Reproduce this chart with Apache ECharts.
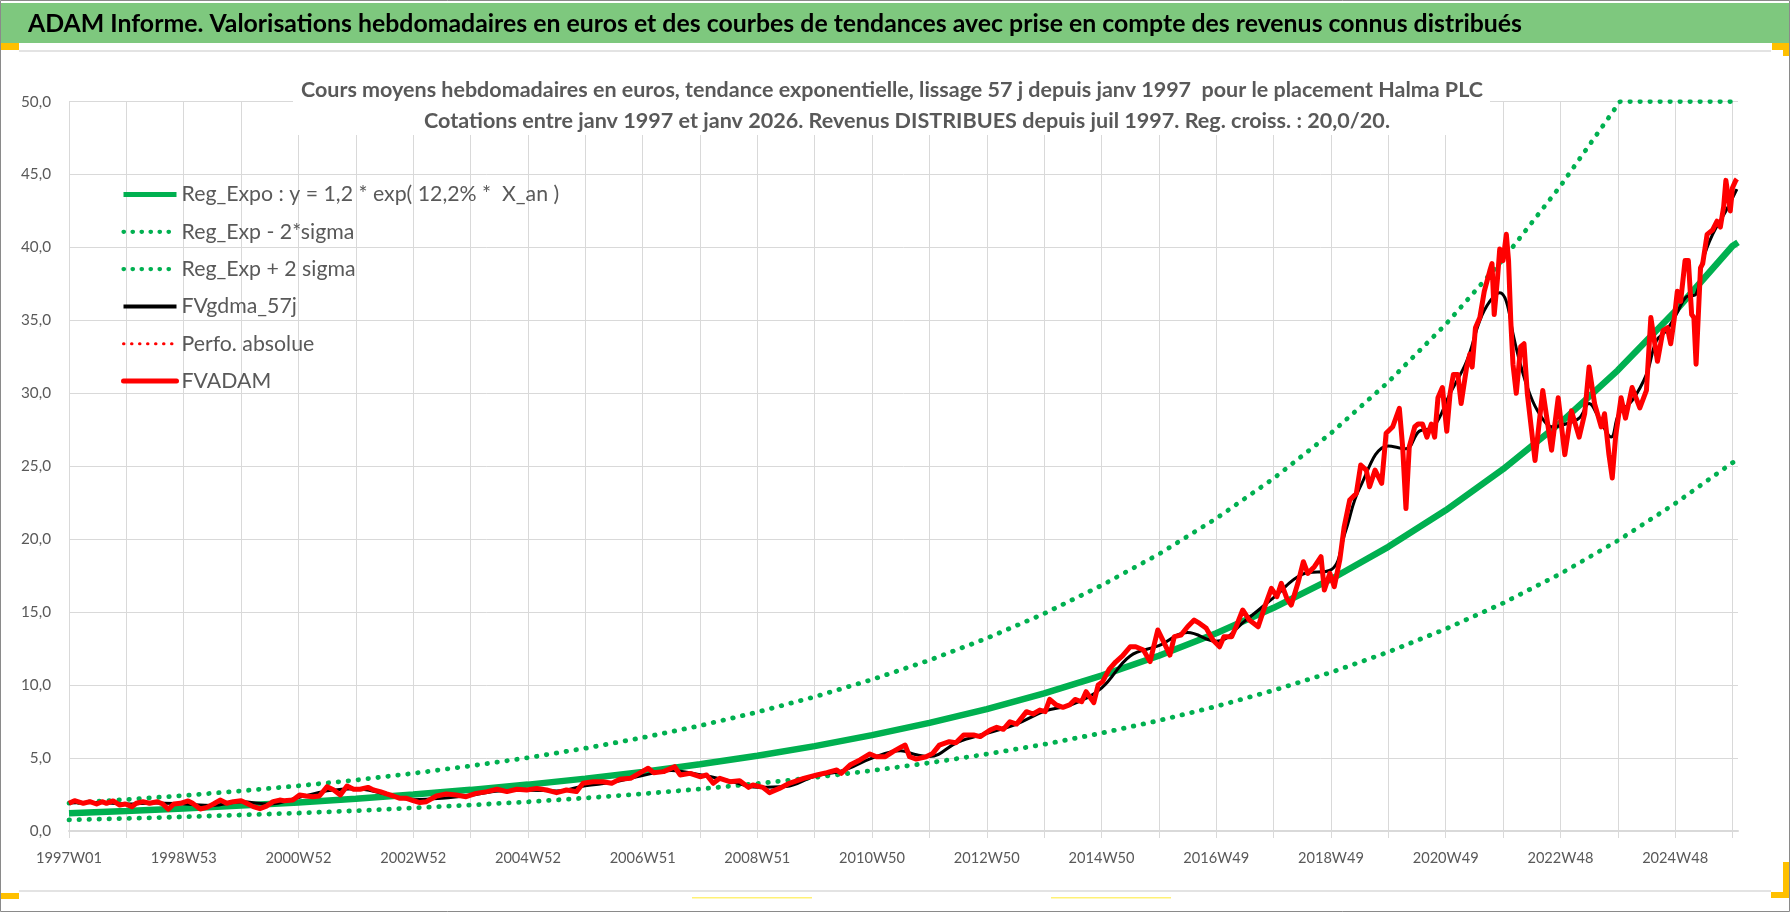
<!DOCTYPE html>
<html><head><meta charset="utf-8">
<script src="https://cdn.jsdelivr.net/npm/echarts@6/dist/echarts.min.js"></script>
<style>html,body{margin:0;padding:0;background:#fff;}#c{width:1790px;height:912px;}</style>
</head><body><div id="c"></div>
<script>
// ---------------- DATA ----------------
const firstYear = 1997;
const weekCount = 1514;               // 1997W01 .. 2026W01
const headerTitle = "ADAM Informe. Valorisations hebdomadaires en euros et des courbes de tendances avec prise en compte des revenus connus distribués";
const subtitleLine1 = "Cours moyens hebdomadaires en euros, tendance exponentielle, lissage 57 j depuis janv 1997  pour le placement Halma PLC";
const subtitleLine2 = "Cotations entre janv 1997 et janv 2026. Revenus DISTRIBUES depuis juil 1997. Reg. croiss. : 20,0/20.";
const yMin = 0, yMax = 50, yStep = 5;
const seriesNames = ["Reg_Expo : y = 1,2 * exp( 12,2% *  X_an )", "Reg_Exp - 2*sigma", "Reg_Exp + 2 sigma", "FVgdma_57j", "Perfo. absolue", "FVADAM"];

// [week index from 1997W01, value]
const regExpo = [[0,1.21],[52,1.37],[104,1.54],[156,1.74],[208,1.96],[260,2.21],[312,2.50],[364,2.82],[416,3.18],[468,3.59],[520,4.05],[572,4.57],[624,5.16],[676,5.82],[728,6.57],[780,7.41],[832,8.36],[884,9.43],[936,10.65],[988,12.01],[1040,13.56],[1092,15.30],[1144,17.26],[1196,19.48],[1248,21.98],[1300,24.80],[1352,27.98],[1404,31.58],[1456,35.63],[1508,40.10],[1513,40.35]];
const regLow = [[0,0.76],[52,0.86],[104,0.97],[156,1.10],[208,1.23],[260,1.39],[312,1.58],[364,1.78],[416,2.00],[468,2.26],[520,2.55],[572,2.88],[624,3.25],[676,3.67],[728,4.14],[780,4.67],[832,5.27],[884,5.94],[936,6.71],[988,7.57],[1040,8.54],[1092,9.64],[1144,10.87],[1196,12.27],[1248,13.85],[1300,15.62],[1352,17.63],[1404,19.90],[1456,22.45],[1508,25.25],[1513,25.40]];
const regHigh = [[0,1.91],[52,2.16],[104,2.43],[156,2.75],[208,3.10],[260,3.49],[312,3.95],[364,4.46],[416,5.02],[468,5.67],[520,6.40],[572,7.22],[624,8.15],[676,9.20],[728,10.38],[780,11.71],[832,13.21],[884,14.90],[936,16.83],[988,18.98],[1040,21.42],[1092,24.17],[1144,27.27],[1196,30.78],[1248,34.73],[1300,39.18],[1352,44.21],[1406,50],[1456,50],[1513,50]];
const fvgdma = [[0,1.92],[26,1.95],[52,1.85],[78,1.92],[104,1.85],[130,1.75],[156,2.00],[182,1.85],[208,2.30],[234,2.75],[260,2.90],[286,2.55],[312,2.15],[338,2.24],[364,2.45],[390,2.75],[416,2.80],[442,2.75],[468,3.10],[494,3.35],[520,3.80],[546,4.15],[572,3.85],[598,3.45],[624,3.00],[650,3.05],[676,3.75],[702,4.15],[728,5.00],[754,5.50],[767,5.25],[780,5.10],[806,6.10],[832,6.70],[858,7.30],[884,8.20],[910,8.70],[936,9.80],[962,12.00],[988,12.70],[1014,13.60],[1040,13.00],[1066,14.40],[1092,16.00],[1118,17.60],[1144,17.90],[1157,20.50],[1170,23.50],[1196,26.40],[1212,26.20],[1224,27.40],[1237,27.70],[1252,30.00],[1267,32.20],[1279,35.00],[1288,36.30],[1297,36.90],[1303,36.30],[1309,34.10],[1315,32.20],[1324,30.00],[1333,28.60],[1345,27.70],[1357,27.90],[1369,28.30],[1378,29.30],[1387,28.30],[1398,27.00],[1405,28.60],[1417,29.50],[1430,31.30],[1439,33.60],[1448,34.30],[1457,35.40],[1466,36.60],[1475,36.80],[1481,39.10],[1490,40.90],[1502,42.50],[1512,44.00]];
const perfoAbsolue = [];
const fvadam = [[0,1.90],[1,1.94],[5,2.08],[13,1.90],[19,2.01],[25,1.85],[30,2.01],[34,1.90],[40,2.06],[46,1.78],[51,1.85],[57,1.67],[61,1.90],[67,2.01],[73,1.90],[80,2.01],[85,1.85],[90,1.49],[95,1.85],[101,1.90],[108,2.06],[112,1.90],[119,1.51],[125,1.62],[131,1.85],[137,2.12],[143,1.90],[149,2.01],[156,2.08],[161,1.90],[167,1.67],[173,1.53],[179,1.71],[185,2.01],[191,2.12],[195,2.08],[203,2.12],[209,2.47],[215,2.40],[221,2.35],[227,2.40],[234,3.04],[240,2.81],[246,2.47],[252,3.08],[258,2.86],[264,2.86],[271,2.99],[276,2.81],[282,2.70],[288,2.54],[294,2.40],[300,2.24],[306,2.24],[312,2.08],[318,1.95],[324,2.01],[333,2.40],[342,2.54],[351,2.47],[360,2.35],[369,2.58],[379,2.70],[388,2.86],[397,2.70],[406,2.86],[415,2.81],[424,2.92],[433,2.81],[442,2.63],[451,2.81],[460,2.70],[466,3.27],[475,3.38],[484,3.38],[492,3.27],[499,3.54],[509,3.61],[518,4.00],[525,4.30],[530,4.00],[539,4.07],[549,4.41],[554,3.84],[563,3.95],[572,3.72],[578,3.84],[584,3.27],[590,3.61],[599,3.38],[608,3.45],[616,2.99],[620,3.15],[629,2.99],[635,2.63],[644,2.92],[653,3.27],[666,3.61],[678,3.84],[687,4.00],[696,4.18],[700,3.95],[708,4.52],[717,4.87],[726,5.28],[732,5.09],[740,5.09],[747,5.44],[755,5.78],[758,5.89],[762,5.09],[768,4.93],[777,5.09],[783,5.32],[789,5.89],[798,6.12],[804,6.05],[811,6.58],[820,6.58],[826,6.47],[835,6.92],[841,7.11],[847,6.97],[853,7.49],[859,7.33],[868,8.18],[874,8.02],[880,8.29],[885,8.18],[889,9.02],[895,8.64],[901,8.48],[907,8.64],[912,9.02],[918,8.86],[922,9.55],[929,8.80],[933,10.01],[937,10.24],[943,11.10],[949,11.60],[955,12.00],[962,12.63],[967,12.63],[974,12.41],[980,11.61],[987,13.78],[993,12.86],[998,12.06],[1002,13.32],[1008,13.43],[1014,14.00],[1020,14.46],[1025,14.23],[1031,13.89],[1037,13.09],[1043,12.63],[1047,13.32],[1054,13.32],[1058,14.00],[1064,15.15],[1070,14.46],[1078,14.00],[1084,15.38],[1090,16.63],[1095,16.06],[1099,16.98],[1104,15.95],[1108,15.49],[1114,16.98],[1119,18.46],[1123,17.66],[1129,18.12],[1135,18.80],[1138,16.52],[1143,17.66],[1147,16.75],[1152,18.57],[1156,20.86],[1161,22.69],[1167,23.14],[1171,25.09],[1176,24.74],[1179,23.60],[1184,24.74],[1190,23.83],[1194,27.26],[1200,27.71],[1206,28.97],[1209,26.34],[1212,22.10],[1215,26.34],[1220,27.71],[1223,27.90],[1227,27.90],[1231,27.00],[1235,27.90],[1238,27.00],[1241,29.70],[1245,30.40],[1249,27.40],[1252,30.00],[1255,31.30],[1259,31.30],[1262,29.30],[1267,31.80],[1270,32.70],[1272,31.80],[1275,34.50],[1279,35.20],[1283,37.00],[1288,38.40],[1290,38.90],[1292,35.40],[1295,37.90],[1297,39.90],[1300,39.10],[1303,40.90],[1305,39.10],[1307,35.00],[1309,32.00],[1312,30.00],[1316,33.20],[1319,33.40],[1322,30.00],[1329,25.40],[1336,30.20],[1344,26.10],[1350,29.70],[1356,25.80],[1362,28.80],[1369,27.00],[1374,28.60],[1378,31.80],[1383,29.30],[1389,27.70],[1392,28.60],[1396,25.80],[1399,24.20],[1402,27.00],[1407,29.70],[1411,28.30],[1417,30.40],[1424,29.00],[1430,30.20],[1434,35.20],[1440,32.20],[1445,34.30],[1449,34.50],[1452,33.40],[1455,35.00],[1458,37.00],[1461,36.30],[1465,39.10],[1468,39.10],[1471,35.40],[1473,35.20],[1475,32.00],[1479,38.60],[1481,38.90],[1485,40.90],[1490,41.20],[1494,41.80],[1497,41.40],[1500,42.80],[1502,44.60],[1506,42.50],[1508,44.10],[1511,44.60],[1512,44.70]];

// ---------------- CATEGORIES (ISO weeks) ----------------
function isoWeeksInYear(y) {
  const d = new Date(Date.UTC(y, 0, 1)).getUTCDay();
  const leap = (y % 4 === 0 && y % 100 !== 0) || y % 400 === 0;
  return (d === 4 || (leap && d === 3)) ? 53 : 52;
}
const weeks = [];
for (let y = firstYear; weeks.length < weekCount; y++) {
  const n = isoWeeksInYear(y);
  for (let w = 1; w <= n && weeks.length < weekCount; w++) weeks.push(y + 'W' + String(w).padStart(2, '0'));
}
const toData = arr => arr.map(([i, v]) => [weeks[i], v]);

// ---------------- FONT FITTING ----------------
const FONT = "Lato, 'Noto Sans', sans-serif";
const mctx = document.createElement('canvas').getContext('2d');
function textWidth(text, weight, size) {
  mctx.font = weight + ' ' + size + 'px ' + FONT;
  return mctx.measureText(text).width;
}
function fitSize(text, weight, width) { return 100 * width / textWidth(text, weight, 100); }
const headerSize = 24.5;
const headerScale = 1494 / textWidth(headerTitle, 'bold', headerSize);
const subSize = 21;
const sub1Scale = 1182 / textWidth(subtitleLine1, 'bold', subSize);
const sub2Scale = 966 / textWidth(subtitleLine2, 'bold', subSize);
const legendSize = fitSize(seriesNames[0], 'normal', 378);
const xLabelSize = fitSize('2024W48', 'normal', 66);
const yLabelSize = fitSize('45,0', 'normal', 30);

const GREEN = '#00B050', RED = '#FF0000', GRID = '#D9D9D9', TXT = '#595959';
const dotGreen = { color: GREEN, width: 4.8, type: [0.5, 9.5], cap: 'round' };
const noSymbol = { opacity: 0, color: 'rgba(0,0,0,0)', borderWidth: 0 };

const chart = echarts.init(document.getElementById('c'), null, { renderer: 'canvas' });
chart.setOption({
  animation: false,
  backgroundColor: '#fff',
  grid: { left: 69, right: 52, top: 101.6, bottom: 81, containLabel: false },
  xAxis: {
    type: 'category', data: weeks, boundaryGap: false,
    axisLine: { lineStyle: { color: GRID, width: 2 } },
    axisTick: { show: true, interval: 51, length: 7, lineStyle: { color: GRID } },
    axisLabel: { interval: 103, color: TXT, fontFamily: FONT, fontSize: xLabelSize, margin: 20 },
    splitLine: { show: true, interval: 51, lineStyle: { color: GRID, width: 1 } }
  },
  yAxis: {
    type: 'value', min: yMin, max: yMax, interval: yStep,
    axisLine: { show: false }, axisTick: { show: false },
    axisLabel: { color: TXT, fontFamily: FONT, fontSize: yLabelSize, margin: 18, formatter: v => v.toFixed(1).replace('.', ',') },
    splitLine: { lineStyle: { color: GRID, width: 1 } }
  },
  legend: {
    orient: 'vertical', left: 116, top: 179, itemWidth: 53, itemHeight: 20, itemGap: 16.3,
    itemStyle: noSymbol,
    textStyle: { color: TXT, fontFamily: FONT, fontSize: legendSize, lineHeight: 20 },
    data: [
      { name: seriesNames[0], itemStyle: noSymbol, lineStyle: { width: 5 } },
      { name: seriesNames[1], itemStyle: noSymbol, lineStyle: { width: 4.2, type: [0.5, 8.5], cap: 'round' } },
      { name: seriesNames[2], itemStyle: noSymbol, lineStyle: { width: 4.2, type: [0.5, 8.5], cap: 'round' } },
      { name: seriesNames[3], itemStyle: noSymbol, lineStyle: { width: 4 } },
      { name: seriesNames[4], itemStyle: noSymbol, lineStyle: { width: 3, type: [0.5, 7.5], cap: 'round' } },
      { name: seriesNames[5], itemStyle: noSymbol, lineStyle: { width: 5, cap: 'round' } }
    ]
  },
  series: [
    { name: seriesNames[0], type: 'line', symbol: 'none', data: toData(regExpo), color: GREEN, lineStyle: { color: GREEN, width: 6.5 } },
    { name: seriesNames[1], type: 'line', symbol: 'none', data: toData(regLow), color: GREEN, lineStyle: dotGreen },
    { name: seriesNames[2], type: 'line', symbol: 'none', data: toData(regHigh), color: GREEN, lineStyle: dotGreen },
    { name: seriesNames[3], type: 'line', symbol: 'none', smooth: 0.4, data: toData(fvgdma), color: '#000', lineStyle: { color: '#000', width: 3 } },
    { name: seriesNames[4], type: 'line', symbol: 'none', data: toData(perfoAbsolue), color: RED, lineStyle: { color: RED, width: 3, type: [0.5, 7.5], cap: 'round' } },
    { name: seriesNames[5], type: 'line', symbol: 'none', data: toData(fvadam), color: RED, lineStyle: { color: RED, width: 5, join: 'round' } }
  ],
  graphic: [
    { type: 'rect', z: 0, silent: true, shape: { x: 0, y: 3, width: 1790, height: 40 }, style: { fill: '#7EC87E' } },
    { type: 'text', z: 5, silent: true, x: 28, y: 24, scaleX: headerScale, style: { text: headerTitle, fill: '#000', fontFamily: FONT, fontWeight: 'bold', fontSize: headerSize, align: 'left', verticalAlign: 'middle' } },
    { type: 'rect', z: 0, silent: true, shape: { x: 19, y: 50, width: 1752, height: 2 }, style: { fill: '#E3E3E3' } },
    { type: 'rect', z: 0, silent: true, shape: { x: 19, y: 890, width: 1752, height: 2 }, style: { fill: '#E3E3E3' } },
    { type: 'rect', z: 1, silent: true, shape: { x: 293, y: 60, width: 1197, height: 75 }, style: { fill: '#fff' } },
    { type: 'text', z: 5, silent: true, x: 892, y: 90, scaleX: sub1Scale, style: { text: subtitleLine1, fill: TXT, fontFamily: FONT, fontWeight: 'bold', fontSize: subSize, align: 'center', verticalAlign: 'middle' } },
    { type: 'text', z: 5, silent: true, x: 907, y: 121, scaleX: sub2Scale, style: { text: subtitleLine2, fill: TXT, fontFamily: FONT, fontWeight: 'bold', fontSize: subSize, align: 'center', verticalAlign: 'middle' } },
    { type: 'rect', z: 5, silent: true, shape: { x: 0, y: 43, width: 19, height: 7 }, style: { fill: '#FFC000' } },
    { type: 'rect', z: 5, silent: true, shape: { x: 1772, y: 43, width: 18, height: 7 }, style: { fill: '#FFC000' } },
    { type: 'rect', z: 5, silent: true, shape: { x: 1783, y: 43, width: 7, height: 13 }, style: { fill: '#FFC000' } },
    { type: 'rect', z: 5, silent: true, shape: { x: 0, y: 893, width: 19, height: 6 }, style: { fill: '#FFC000' } },
    { type: 'rect', z: 5, silent: true, shape: { x: 1783, y: 862, width: 7, height: 36 }, style: { fill: '#FFC000' } },
    { type: 'rect', z: 5, silent: true, shape: { x: 1771, y: 892, width: 19, height: 6 }, style: { fill: '#FFC000' } },
    { type: 'rect', z: 5, silent: true, shape: { x: 692, y: 897, width: 120, height: 1.5 }, style: { fill: '#FFF176' } },
    { type: 'rect', z: 5, silent: true, shape: { x: 1051, y: 897, width: 120, height: 1.5 }, style: { fill: '#FFF176' } },
    { type: 'rect', z: 6, silent: true, shape: { x: 0.5, y: 0.5, width: 1789, height: 911 }, style: { fill: 'none', stroke: '#8A8A8A', lineWidth: 1 } }
  ]
});
</script>
</body></html>
